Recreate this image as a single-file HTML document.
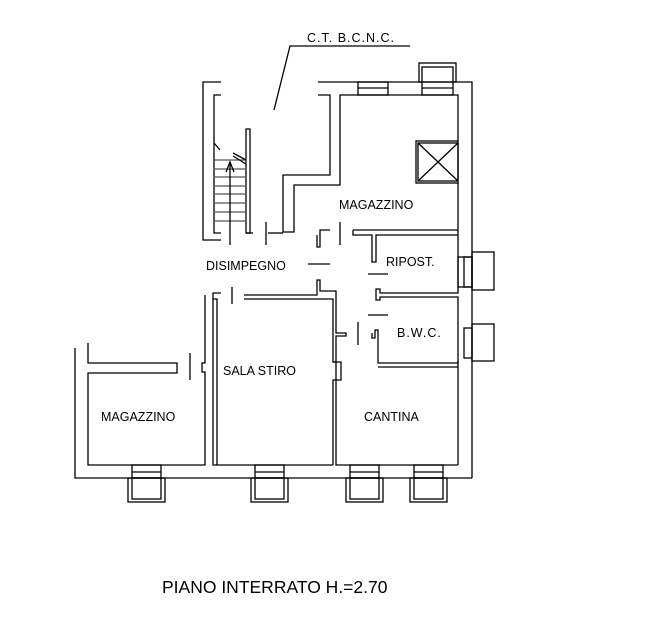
<!DOCTYPE html>
<html><head><meta charset="utf-8"><style>
html,body{margin:0;padding:0;background:#fff;}
svg{display:block;}
text{font-family:"Liberation Sans",sans-serif;fill:#000;}
</style></head><body>
<svg width="647" height="625" viewBox="0 0 647 625" xmlns="http://www.w3.org/2000/svg">
<g fill="none" stroke="#000" stroke-width="1.3">
<!-- label leader -->
<polyline points="274,110 290,46 410,46"/>
<!-- stair walls -->
<polyline points="221,82 203,82 203,240 221,240"/>
<polyline points="221,95 214,95 214,233 221,233"/>
<rect x="246" y="129" width="4" height="104"/>
<line x1="246" y1="233" x2="253" y2="233"/>
<g stroke="#555">
<line x1="214" y1="160" x2="246" y2="160"/><line x1="214" y1="177" x2="246" y2="177"/>
<line x1="214" y1="194" x2="246" y2="194"/><line x1="214" y1="203" x2="246" y2="203"/>
<line x1="214" y1="212" x2="246" y2="212"/><line x1="214" y1="221" x2="246" y2="221"/>
<line x1="214" y1="186" x2="246" y2="186"/><line x1="214" y1="169" x2="246" y2="169"/>
</g>
<line x1="230" y1="162" x2="230" y2="245"/>
<polyline points="226,172 230,162 234,172"/>
<line x1="233" y1="153" x2="246" y2="160"/><line x1="233" y1="156" x2="246" y2="164"/>
<line x1="214" y1="143" x2="220" y2="150"/>
<!-- CT room walls -->
<polyline points="318,82 472,82 472,478"/>
<polyline points="318,95 330,95 330,175 283,175 283,232 294,232 294,185 340,185 340,95 458,95 458,141"/>
<!-- top windows -->
<rect x="358" y="82" width="30" height="13"/>
<line x1="358" y1="88" x2="388" y2="88"/>
<rect x="419" y="63" width="37" height="19"/>
<rect x="422" y="67" width="31" height="28"/>
<line x1="422" y1="88" x2="453" y2="88"/>
<!-- shaft -->
<rect x="416" y="141" width="42" height="42"/>
<rect x="418" y="143" width="40" height="38"/>
<line x1="418" y1="143" x2="458" y2="181"/><line x1="458" y1="143" x2="418" y2="181"/>
<line x1="458" y1="183" x2="458" y2="230"/>
<!-- magazzino bottom -->
<polyline points="353,230 458,230"/><polyline points="353,230 353,235 372,235 372,262 376,262 376,235 458,235"/>
<line x1="458" y1="230" x2="458" y2="257"/>
<polyline points="330,230 320,230 320,247 317,247 317,235"/>
<line x1="268" y1="233" x2="283" y2="233"/>
<line x1="266" y1="222" x2="266" y2="245"/>
<line x1="340" y1="222" x2="340" y2="245"/>
<!-- disimpegno -->
<line x1="308" y1="264" x2="330" y2="264"/>
<line x1="368" y1="274" x2="388" y2="274"/>
<line x1="368" y1="315" x2="388" y2="315"/>
<line x1="232" y1="287" x2="232" y2="304"/>
<!-- ripost -->
<rect x="458" y="257" width="14" height="30"/>
<line x1="458" y1="257" x2="458" y2="287"/>
<rect x="472" y="252" width="22" height="38"/>
<rect x="464" y="257" width="8" height="30"/>
<polyline points="458,287 458,293 380,293 380,289 376,289 376,300 380,300 380,297 458,297 458,324"/>
<!-- bwc -->
<rect x="472" y="324" width="22" height="37"/>
<rect x="464" y="328" width="8" height="30"/>
<line x1="458" y1="324" x2="458" y2="361"/>
<polyline points="458,361 458,363 378,363 378,330 375,330 375,338 372,338 372,333"/>
<polyline points="458,361 458,367 458,465"/>
<line x1="378" y1="367" x2="458" y2="367"/>
<line x1="358" y1="322" x2="358" y2="345"/>
<!-- sala stiro top & cantina left -->
<polyline points="244,295 317,295 317,280 320,280 320,291 336,291 336,333 346,333 346,336 336,336 336,465 458,465"/>
<polyline points="244,299 333,299 333,362 336,362"/>
<polyline points="333,362 341,362 341,380 333,380 333,465"/>
<polyline points="221,293 213,293 213,465 333,465"/>
<polyline points="213,299 217,299 217,465"/>
<!-- left magazzino -->
<polyline points="205,295 205,363 202,363 202,372 205,372 205,465 88,465 88,373 177,373 177,363 88,363 88,343"/>
<polyline points="75,348 75,478 472,478"/>
<line x1="190" y1="353" x2="190" y2="380"/>
<!-- bottom windows -->
<g>
<rect x="132" y="465" width="29" height="13"/><line x1="132" y1="472" x2="161" y2="472"/>
<rect x="128" y="478" width="37" height="24"/><rect x="132" y="478" width="29" height="21"/>
<rect x="255" y="465" width="29" height="13"/><line x1="255" y1="472" x2="284" y2="472"/>
<rect x="251" y="478" width="37" height="24"/><rect x="255" y="478" width="29" height="21"/>
<rect x="350" y="465" width="29" height="13"/><line x1="350" y1="472" x2="379" y2="472"/>
<rect x="346" y="478" width="37" height="24"/><rect x="350" y="478" width="29" height="21"/>
<rect x="414" y="465" width="29" height="13"/><line x1="414" y1="472" x2="443" y2="472"/>
<rect x="410" y="478" width="37" height="24"/><rect x="414" y="478" width="29" height="21"/>
</g>
</g>
<g font-size="12.5">
<text x="307" y="42" letter-spacing="1">C.T. B.C.N.C.</text>
<text x="339" y="209">MAGAZZINO</text>
<text x="206" y="270">DISIMPEGNO</text>
<text x="386" y="266">RIPOST.</text>
<text x="397" y="337" letter-spacing="1">B.W.C.</text>
<text x="223" y="375">SALA STIRO</text>
<text x="101" y="421">MAGAZZINO</text>
<text x="364" y="421">CANTINA</text>
</g>
<text x="162" y="593" font-size="17.5">PIANO INTERRATO H.=2.70</text>
</svg>
</body></html>
